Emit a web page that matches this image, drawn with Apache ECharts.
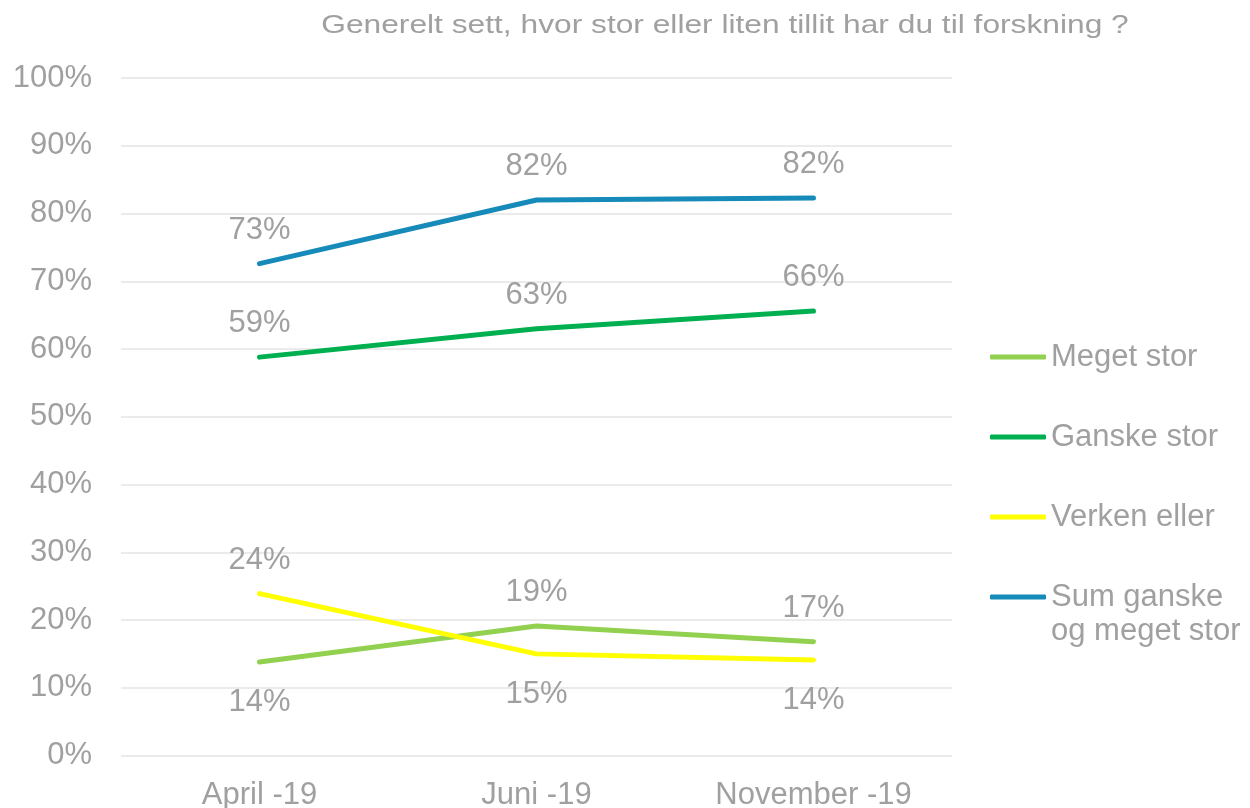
<!DOCTYPE html>
<html>
<head>
<meta charset="utf-8">
<title>Tillit til forskning</title>
<script src="https://cdn.jsdelivr.net/npm/echarts@6/dist/echarts.min.js"></script>
<style>
  html, body { margin: 0; padding: 0; background: #fff; }
  #chart { width: 1250px; height: 808px; }
</style>
</head>
<body>
<div id="chart"></div>
<script>
// data
const months = ['April -19', 'Juni -19', 'November -19']
const megetStor = [13.8, 19.1, 16.8]
const ganskeStor = [58.8, 63.0, 65.6]
const verkenEller = [23.9, 15.0, 14.1]
const sumGanskeMeget = [72.6, 82.0, 82.3]
const yTicks = [0, 10, 20, 30, 40, 50, 60, 70, 80, 90, 100]

const textGrey = '#A0A0A0'
const font = 'Liberation Sans, Arial, sans-serif'
const lh = 34

// label side per point (top / bottom)
const makeSeries = (name, values, color, sides) => ({
  name,
  type: 'line',
  data: values.map((v, i) => ({
    value: v,
    label: { position: sides[i], distance: sides[i] === 'top' ? 18 : 25 }
  })),
  symbol: 'circle',
  symbolSize: 0,
  showSymbol: true,
  lineStyle: { width: 5, color, cap: 'round', join: 'round' },
  itemStyle: { color },
  label: {
    show: true,
    color: textGrey,
    fontSize: 31,
    fontFamily: font,
    formatter: p => Math.round(p.value) + '%'
  },
  emphasis: { disabled: true }
})

const chart = echarts.init(document.getElementById('chart'))
chart.setOption({
  animation: false,
  graphic: [{
    type: 'text',
    x: 725,
    y: 26,
    scaleX: 1.22,
    style: {
      text: 'Generelt sett, hvor stor eller liten tillit har du til forskning ?',
      fill: textGrey,
      font: '26px ' + font,
      textAlign: 'center',
      textVerticalAlign: 'middle'
    }
  }],
  grid: { left: 121, right: 298, top: 78, bottom: 52.5, outerBoundsMode: 'none' },
  legend: {
    orient: 'vertical',
    left: 990,
    top: 357 - 1.5 * lh,
    padding: 0,
    icon: 'roundRect',
    itemWidth: 56,
    itemHeight: 5,
    itemGap: 80 - 3 * lh,
    textStyle: { color: textGrey, fontSize: 31, fontFamily: font, lineHeight: lh },
    formatter: name => name === 'Sum ganske og meget stor' ? '\nSum ganske\nog meget stor' : name,
    data: [
      { name: 'Meget stor', textStyle: { padding: [lh, 0, lh, 0] } },
      { name: 'Ganske stor', textStyle: { padding: [lh, 0, lh, 0] } },
      { name: 'Verken eller', textStyle: { padding: [lh, 0, lh, 0] } },
      { name: 'Sum ganske og meget stor' }
    ]
  },
  xAxis: {
    type: 'category',
    data: months,
    boundaryGap: true,
    axisLine: { show: false },
    axisTick: { show: false },
    axisLabel: { color: textGrey, fontSize: 31, fontFamily: font, margin: 24 }
  },
  yAxis: {
    type: 'value',
    min: yTicks[0],
    max: yTicks[yTicks.length - 1],
    interval: yTicks[1] - yTicks[0],
    axisLine: { show: false },
    axisTick: { show: false },
    axisLabel: { color: textGrey, fontSize: 31, fontFamily: font, margin: 29, formatter: '{value}%' },
    splitLine: { lineStyle: { color: '#E5E5E5', width: 1.5 } }
  },
  series: [
    makeSeries('Meget stor', megetStor, '#92D050', ['bottom', 'top', 'top']),
    makeSeries('Ganske stor', ganskeStor, '#00B050', ['top', 'top', 'top']),
    makeSeries('Verken eller', verkenEller, '#FFFF00', ['top', 'bottom', 'bottom']),
    makeSeries('Sum ganske og meget stor', sumGanskeMeget, '#168AB9', ['top', 'top', 'top'])
  ]
})
</script>
</body>
</html>
